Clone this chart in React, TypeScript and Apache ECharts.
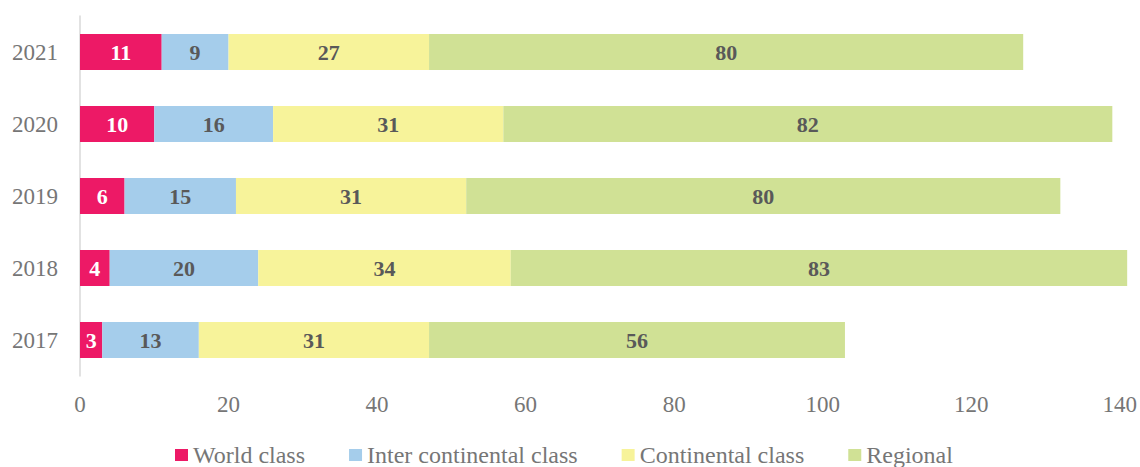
import React, { useEffect, useRef } from "react";
import * as echarts from "echarts";

const years = ["2017", "2018", "2019", "2020", "2021"];
const worldClass = [3, 4, 6, 10, 11];
const interContinental = [13, 20, 15, 16, 9];
const continental = [31, 34, 31, 31, 27];
const regional = [56, 83, 80, 82, 80];
const seriesNames = ["World class", "Inter continental class", "Continental class", "Regional"];
const colors = ["#ED1966", "#A5CDEB", "#F7F39A", "#D0E195"];
const labelColors = ["#FFFFFF", "#595959", "#595959", "#595959"];

const FONT = "Liberation Serif";

export default function App() {
  const ref = useRef<HTMLDivElement>(null);
  useEffect(() => {
    if (!ref.current) return;
    const chart = echarts.init(ref.current, undefined, { renderer: "svg" });
    const data = [worldClass, interContinental, continental, regional];
    chart.setOption({
      animation: false,
      textStyle: { fontFamily: FONT },
      grid: { left: 80, right: 20, top: 16, height: 360, containLabel: false },
      legend: {
        top: 443,
        left: 175,
        padding: 0,
        itemWidth: 13,
        itemHeight: 12,
        itemGap: 44,
        icon: "rect",
        textStyle: { fontFamily: FONT, fontSize: 24, color: "#767676" },
        data: seriesNames,
      },
      xAxis: {
        type: "value",
        min: 0,
        max: 140,
        interval: 20,
        axisLine: { show: false },
        axisTick: { show: false },
        splitLine: { show: false },
        axisLabel: { fontFamily: FONT, fontSize: 23, color: "#767676", margin: 17 },
      },
      yAxis: {
        type: "category",
        data: years,
        axisLine: { show: true, lineStyle: { color: "#D9D9D9", width: 1.5 } },
        axisTick: { show: false },
        axisLabel: { fontFamily: FONT, fontSize: 23, color: "#767676", margin: 22 },
      },
      series: seriesNames.map((name, i) => ({
        name,
        type: "bar",
        stack: "total",
        barWidth: "50%",
        clip: false,
        itemStyle: { color: colors[i] },
        label: {
          show: true,
          position: "inside",
          fontFamily: FONT,
          fontSize: 22,
          fontWeight: "bold",
          color: labelColors[i],
        },
        data: data[i],
      })),
    });
    return () => chart.dispose();
  }, []);
  return (
    <div
      ref={ref}
      style={{ position: "fixed", left: 0, top: 0, width: 1140, height: 467, background: "#fff" }}
    />
  );
}
